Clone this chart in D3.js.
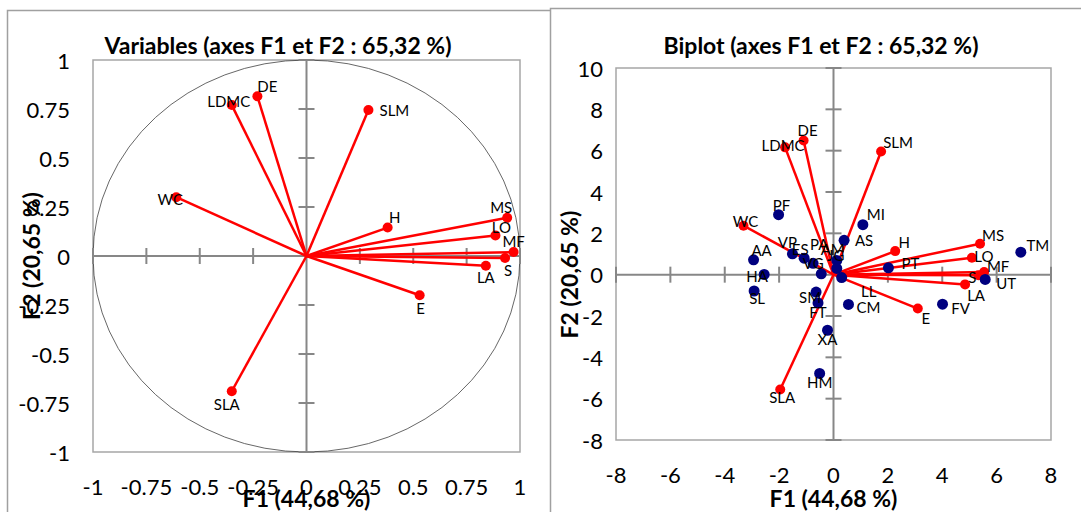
<!DOCTYPE html>
<html>
<head>
<meta charset="utf-8">
<script src="https://cdn.jsdelivr.net/npm/d3@7"></script>
<style>
  body { margin: 0; background: #fff; }
  svg { font-family: Lato, "Open Sans", sans-serif; }
  .tick-label { font-size: 22px; fill: #000; }
  .title { font-size: 23px; font-weight: bold; }
  .axis-title { font-size: 23px; font-weight: bold; }
  .pt-label { font-size: 15px; fill: #000; }
</style>
</head>
<body>
<div id="chart"></div>
<script>
// correlation circle (F1, F2)
var varNames = ['DE', 'LDMC', 'SLM', 'WC', 'H', 'MS', 'LO', 'MF', 'S', 'LA', 'E', 'SLA'];
var corF1 = [-0.23, -0.35, 0.29, -0.61, 0.38, 0.94, 0.885, 0.97, 0.93, 0.84, 0.53, -0.35];
var corF2 = [0.815, 0.77, 0.745, 0.30, 0.145, 0.195, 0.105, 0.02, -0.01, -0.05, -0.20, -0.69];

// biplot, variable vectors
var bipVarF1 = [-1.10, -1.78, 1.75, -3.31, 2.27, 5.39, 5.09, 5.54, 5.33, 4.84, 3.10, -1.96];
var bipVarF2 = [6.49, 6.16, 5.96, 2.37, 1.14, 1.50, 0.82, 0.13, -0.03, -0.47, -1.64, -5.56];

// biplot, observations
var obsNames = ['PF', 'MI', 'AS', 'AA', 'VP', 'ES', 'PA', 'AM', 'JG', 'VG', 'LL', 'PT', 'HA', 'SL',
  'SM', 'FT', 'CM', 'XA', 'HM', 'FV', 'UT', 'TM'];
var obsF1 = [-2.02, 1.08, 0.39, -2.94, -1.51, -1.08, -0.75, 0.12, 0.12, -0.45, 0.30, 2.02, -2.55, -2.92,
  -0.64, -0.57, 0.55, -0.22, -0.51, 4.01, 5.58, 6.89];
var obsF2 = [2.90, 2.42, 1.66, 0.72, 1.01, 0.80, 0.55, 0.69, 0.30, 0.04, -0.14, 0.33, 0.01, -0.79,
  -0.84, -1.37, -1.44, -2.69, -4.78, -1.43, -0.23, 1.09];

var corTicks = [-1, -0.75, -0.5, -0.25, 0, 0.25, 0.5, 0.75, 1];
var bipXTicks = [-8, -6, -4, -2, 0, 2, 4, 6, 8];
var bipYTicks = [-8, -6, -4, -2, 0, 2, 4, 6, 8, 10];

var titleLeft = 'Variables (axes F1 et F2 : 65,32 %)';
var titleRight = 'Biplot (axes F1 et F2 : 65,32 %)';
var xTitle = 'F1 (44,68 %)';
var yTitle = 'F2 (20,65 %)';

// label placement (pixel offsets of text centre from the point)
var corLabelPos = {
  DE: [10, -10], LDMC: [-3, -4], SLM: [26, 0], WC: [-6, 2], H: [7, -11], MS: [-6, -11],
  LO: [6, -8], MF: [0, -11], S: [3, 12], LA: [0, 11], E: [1, 13], SLA: [-5, 13]
};
var bipLabelPos = {
  DE: [4, -11], LDMC: [-2, -2], SLM: [17, -9], WC: [2, -5], H: [9, -9], MS: [13, -9],
  LO: [12, -2], MF: [14, -6], S: [-6, 2], LA: [11, 11], E: [8, 9], SLA: [2, 7],
  PF: [3, -10], MI: [13, -11], AS: [20, 0], AA: [8, -10], VP: [-5, -12], ES: [-4, -9],
  PA: [6, -19], AM: [-4, -11], JG: [-1, -13], VG: [-8, -11], LL: [27, 13], PT: [22, -5],
  HA: [-7, 2], SL: [3, 7], SM: [-6, 5], FT: [0, 9], CM: [20, 3], XA: [0, 9], HM: [0, 9],
  FV: [18, 4], UT: [21, 4], TM: [17, -7]
};

var W = 1081, H = 512;
var svg = d3.select('#chart').append('svg')
  .attr('width', W).attr('height', H)
  .attr('viewBox', '0 0 ' + W + ' ' + H);

// chart frames
svg.append('rect').attr('x', 7.5).attr('y', 10.5).attr('width', 545).attr('height', 520)
  .attr('fill', '#fff').attr('stroke', '#a0a0a0').attr('stroke-width', 1.5);
svg.append('rect').attr('x', 550.5).attr('y', 8.5).attr('width', 540).attr('height', 520)
  .attr('fill', '#fff').attr('stroke', '#a0a0a0').attr('stroke-width', 1.5);

function fmtCor(v) {
  return v === 0 ? '0' : String(v);
}

function drawPanel(opt) {
  var g = svg.append('g');
  var x = opt.x, y = opt.y;
  var x0 = x.range()[0], x1 = x.range()[1];
  var y0 = y.range()[0], y1 = y.range()[1];

  g.append('rect')
    .attr('x', x0).attr('y', y1).attr('width', x1 - x0).attr('height', y0 - y1)
    .attr('fill', 'none').attr('stroke', '#a6a6a6').attr('stroke-width', 1.5);

  if (opt.circle) {
    g.append('ellipse')
      .attr('cx', x(0)).attr('cy', y(0))
      .attr('rx', x(1) - x(0)).attr('ry', y(0) - y(1))
      .attr('fill', 'none').attr('stroke', '#404040').attr('stroke-width', 0.8);
  }

  // axes through the origin
  var ax = g.append('g').attr('stroke', '#878787').attr('stroke-width', 2);
  ax.append('line').attr('x1', x0).attr('x2', x1).attr('y1', y(0)).attr('y2', y(0));
  ax.append('line').attr('x1', x(0)).attr('x2', x(0)).attr('y1', y0).attr('y2', y1);
  opt.xTicks.forEach(function (t) {
    if (t === 0) return;
    ax.append('line').attr('x1', x(t)).attr('x2', x(t)).attr('y1', y(0) - 8).attr('y2', y(0) + 8);
  });
  opt.yTicks.forEach(function (t) {
    if (t === 0) return;
    ax.append('line').attr('x1', x(0) - 8).attr('x2', x(0) + 8).attr('y1', y(t)).attr('y2', y(t));
  });

  // tick labels
  g.selectAll('.xt').data(opt.xTicks).enter().append('text')
    .attr('class', 'tick-label')
    .attr('x', function (d) { return x(d); })
    .attr('y', opt.xLabelY)
    .attr('text-anchor', 'middle').attr('dominant-baseline', 'central')
    .text(opt.fmt);
  g.selectAll('.yt').data(opt.yTicks).enter().append('text')
    .attr('class', 'tick-label')
    .attr('x', opt.yLabelX)
    .attr('y', function (d) { return y(d); })
    .attr('text-anchor', 'end').attr('dominant-baseline', 'central')
    .text(opt.fmt);

  // titles
  g.append('text').attr('class', 'title')
    .attr('x', opt.titleX).attr('y', 45)
    .attr('text-anchor', 'middle').attr('dominant-baseline', 'central')
    .text(opt.title);
  g.append('text').attr('class', 'axis-title')
    .attr('x', x(0)).attr('y', 498)
    .attr('text-anchor', 'middle').attr('dominant-baseline', 'central')
    .text(xTitle);
  g.append('text').attr('class', 'axis-title')
    .attr('transform', 'translate(' + opt.yTitleX + ',' + y(0) + ') rotate(-90)')
    .attr('text-anchor', 'middle').attr('dominant-baseline', 'central')
    .text(yTitle);

  return g;
}

function drawVectors(g, x, y, f1, f2, labelPos) {
  var rows = varNames.map(function (n, i) { return { name: n, f1: f1[i], f2: f2[i] }; });
  g.selectAll('.vec').data(rows).enter().append('line')
    .attr('x1', x(0)).attr('y1', y(0))
    .attr('x2', function (d) { return x(d.f1); })
    .attr('y2', function (d) { return y(d.f2); })
    .attr('stroke', '#ff0000').attr('stroke-width', 2.5);
  g.selectAll('.vdot').data(rows).enter().append('circle')
    .attr('cx', function (d) { return x(d.f1); })
    .attr('cy', function (d) { return y(d.f2); })
    .attr('r', 5).attr('fill', '#ff0000');
  g.selectAll('.vlab').data(rows).enter().append('text')
    .attr('class', 'pt-label')
    .attr('x', function (d) { return x(d.f1) + labelPos[d.name][0]; })
    .attr('y', function (d) { return y(d.f2) + labelPos[d.name][1]; })
    .attr('text-anchor', 'middle').attr('dominant-baseline', 'central')
    .text(function (d) { return d.name; });
}

// left: correlation circle
var xL = d3.scaleLinear().domain([-1, 1]).range([93, 520]);
var yL = d3.scaleLinear().domain([-1, 1]).range([452, 60]);
var left = drawPanel({
  x: xL, y: yL, circle: true,
  xTicks: corTicks, yTicks: corTicks, fmt: fmtCor,
  xLabelY: 486, yLabelX: 70, titleX: 278, yTitleX: 31, title: titleLeft
});
drawVectors(left, xL, yL, corF1, corF2, corLabelPos);

// right: biplot
var xR = d3.scaleLinear().domain([-8, 8]).range([616, 1051]);
var yR = d3.scaleLinear().domain([-8, 10]).range([440, 68]);
var right = drawPanel({
  x: xR, y: yR, circle: false,
  xTicks: bipXTicks, yTicks: bipYTicks, fmt: function (d) { return String(d); },
  xLabelY: 474, yLabelX: 603, titleX: 821, yTitleX: 569, title: titleRight
});
drawVectors(right, xR, yR, bipVarF1, bipVarF2, bipLabelPos);

var obs = obsNames.map(function (n, i) { return { name: n, f1: obsF1[i], f2: obsF2[i] }; });
right.selectAll('.odot').data(obs).enter().append('circle')
  .attr('cx', function (d) { return xR(d.f1); })
  .attr('cy', function (d) { return yR(d.f2); })
  .attr('r', 5.5).attr('fill', '#00007f');
right.selectAll('.olab').data(obs).enter().append('text')
  .attr('class', 'pt-label')
  .attr('x', function (d) { return xR(d.f1) + bipLabelPos[d.name][0]; })
  .attr('y', function (d) { return yR(d.f2) + bipLabelPos[d.name][1]; })
  .attr('text-anchor', 'middle').attr('dominant-baseline', 'central')
  .text(function (d) { return d.name; });
</script>
</body>
</html>
